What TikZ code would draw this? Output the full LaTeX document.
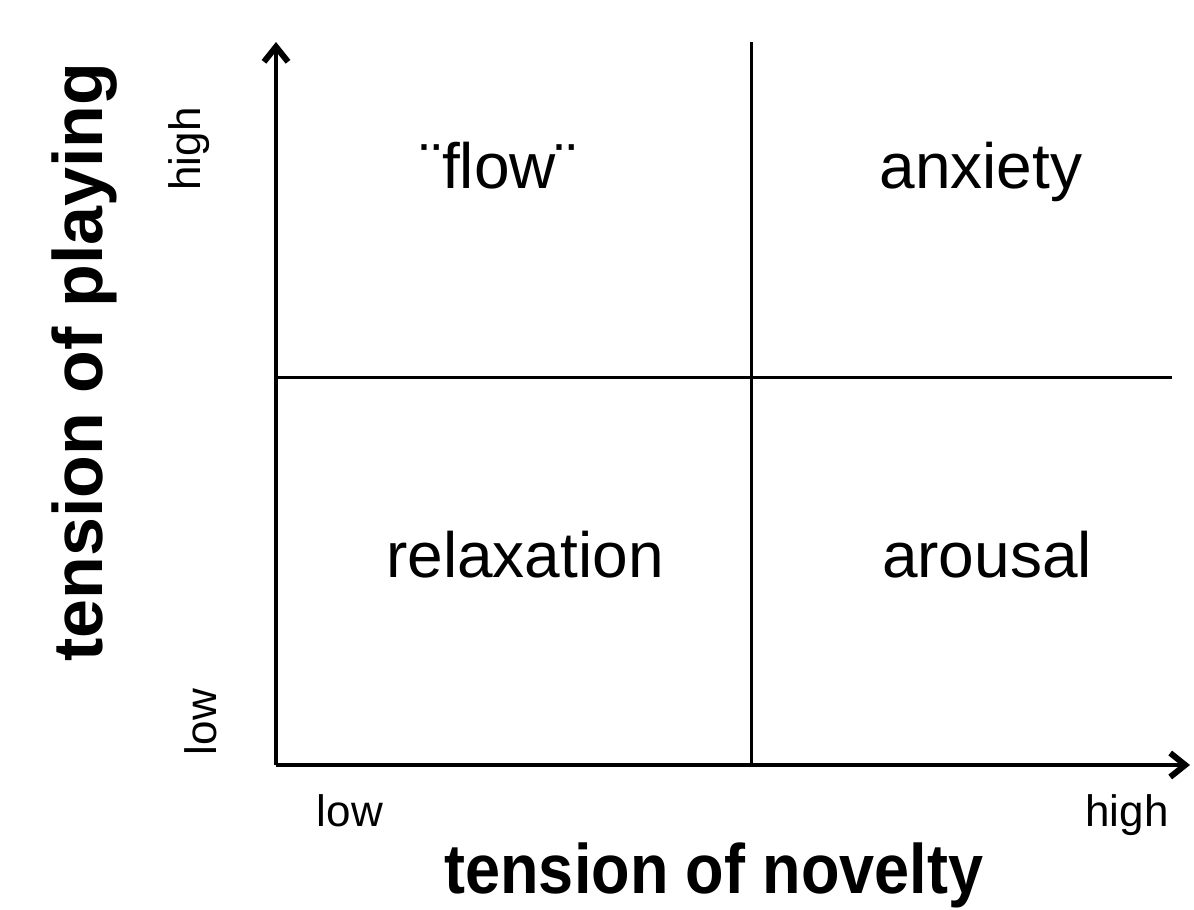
\documentclass[tikz,border=0pt]{standalone}
\usepackage{fontspec}
\setmainfont{Liberation Sans}
\usetikzlibrary{arrows.meta}
\begin{document}
\begin{tikzpicture}[x=1pt,y=-1pt,
  axis/.style={line width=3.2pt,-{Straight Barb[length=15pt,width=24pt,line width=6pt]}},
  divider/.style={line width=3pt},
  quad/.style={anchor=base,inner sep=0pt,font=\fontsize{64}{72}\selectfont},
  tick/.style={anchor=base,inner sep=0pt,font=\fontsize{44}{50}\selectfont},
  big/.style={anchor=base,inner sep=0pt,font=\fontsize{70}{80}\selectfont\bfseries}]
\useasboundingbox (0,0) rectangle (1194,910);
\coordinate (O) at (276,765);
\coordinate (ytop) at (276,42);
\coordinate (xend) at (1190,765);
\coordinate (vtop) at (751,42);
\coordinate (vbot) at (751,765);
\coordinate (hl) at (276,377);
\coordinate (hr) at (1172,377);
\draw[divider] (vtop) -- (vbot);
\draw[divider] (hl) -- (hr);
\draw[axis] (O) -- (ytop);
\draw[axis] (O) -- (xend);
\node[quad] (flow) at (499,188) {¨flow¨};
\node[quad] (anx) at (981,188) {anxiety};
\node[quad] (rel) at (525,577) {relaxation};
\node[quad] (aro) at (987,577) {arousal};
\node[tick,rotate=90] (yhigh) at (200,149) {high};
\node[tick,rotate=90] (ylow) at (216,722) {low};
\node[tick] (xlow) at (350,826) {low};
\node[tick] (xhigh) at (1127,826) {high};
\node[big,rotate=90] (ylab) at (102,362) {tension of playing};
\node[big,xscale=0.9] (xlab) at (714,893) {tension of novelty};
\end{tikzpicture}
\end{document}
